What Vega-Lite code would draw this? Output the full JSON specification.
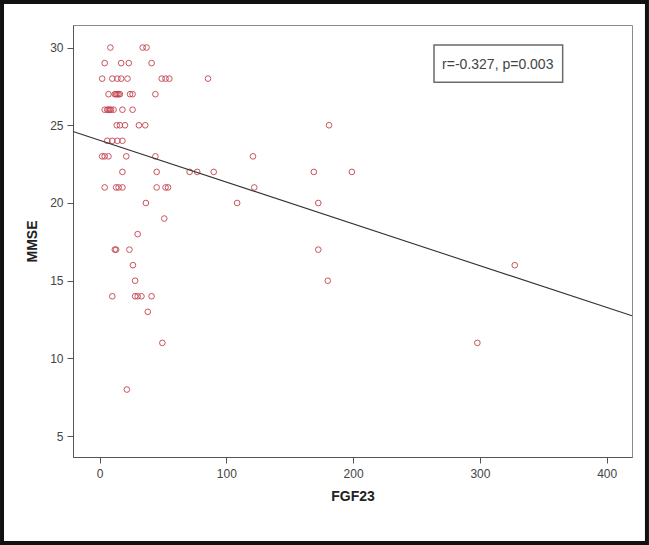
{
  "$schema": "https://vega.github.io/schema/vega-lite/v6.json",
  "width": 559,
  "height": 432,
  "autosize": {"type": "none"},
  "padding": {"left": 73, "top": 25, "right": 17, "bottom": 88},
  "background": "white",
  "config": {
    "view": {"stroke": "#8a8a8a", "strokeWidth": 1},
    "font": "Liberation Sans",
    "axis": {
      "grid": false,
      "domainColor": "#555555",
      "tickColor": "#555555",
      "tickSize": 6,
      "labelFont": "Liberation Sans",
      "labelFontSize": 12,
      "labelColor": "#444444",
      "titleFont": "Liberation Sans",
      "titleFontSize": 14,
      "titleFontWeight": "bold",
      "titleColor": "#222222"
    }
  },
  "datasets": {
    "points": [
      {"FGF23": 8.5, "MMSE": 30}, {"FGF23": 34, "MMSE": 30}, {"FGF23": 37, "MMSE": 30},
      {"FGF23": 4, "MMSE": 29}, {"FGF23": 17, "MMSE": 29}, {"FGF23": 23, "MMSE": 29}, {"FGF23": 41, "MMSE": 29},
      {"FGF23": 2, "MMSE": 28}, {"FGF23": 10, "MMSE": 28}, {"FGF23": 14, "MMSE": 28}, {"FGF23": 17, "MMSE": 28}, {"FGF23": 22, "MMSE": 28}, {"FGF23": 49, "MMSE": 28}, {"FGF23": 52, "MMSE": 28}, {"FGF23": 55, "MMSE": 28}, {"FGF23": 85.5, "MMSE": 28},
      {"FGF23": 7, "MMSE": 27}, {"FGF23": 12, "MMSE": 27}, {"FGF23": 13, "MMSE": 27}, {"FGF23": 14, "MMSE": 27}, {"FGF23": 15, "MMSE": 27}, {"FGF23": 16, "MMSE": 27}, {"FGF23": 24, "MMSE": 27}, {"FGF23": 26, "MMSE": 27}, {"FGF23": 44, "MMSE": 27},
      {"FGF23": 4, "MMSE": 26}, {"FGF23": 6, "MMSE": 26}, {"FGF23": 7, "MMSE": 26}, {"FGF23": 8, "MMSE": 26}, {"FGF23": 9, "MMSE": 26}, {"FGF23": 11, "MMSE": 26}, {"FGF23": 18, "MMSE": 26}, {"FGF23": 26, "MMSE": 26},
      {"FGF23": 13.5, "MMSE": 25}, {"FGF23": 16, "MMSE": 25}, {"FGF23": 20, "MMSE": 25}, {"FGF23": 31, "MMSE": 25}, {"FGF23": 36, "MMSE": 25}, {"FGF23": 181, "MMSE": 25},
      {"FGF23": 6, "MMSE": 24}, {"FGF23": 10, "MMSE": 24}, {"FGF23": 14, "MMSE": 24}, {"FGF23": 18, "MMSE": 24},
      {"FGF23": 2, "MMSE": 23}, {"FGF23": 4, "MMSE": 23}, {"FGF23": 7, "MMSE": 23}, {"FGF23": 21, "MMSE": 23}, {"FGF23": 44, "MMSE": 23}, {"FGF23": 121, "MMSE": 23},
      {"FGF23": 18, "MMSE": 22}, {"FGF23": 45, "MMSE": 22}, {"FGF23": 71, "MMSE": 22}, {"FGF23": 77, "MMSE": 22}, {"FGF23": 90, "MMSE": 22}, {"FGF23": 169, "MMSE": 22}, {"FGF23": 199, "MMSE": 22},
      {"FGF23": 4, "MMSE": 21}, {"FGF23": 13, "MMSE": 21}, {"FGF23": 15, "MMSE": 21}, {"FGF23": 18, "MMSE": 21}, {"FGF23": 45, "MMSE": 21}, {"FGF23": 52, "MMSE": 21}, {"FGF23": 54, "MMSE": 21}, {"FGF23": 122, "MMSE": 21},
      {"FGF23": 36.5, "MMSE": 20}, {"FGF23": 108.5, "MMSE": 20}, {"FGF23": 172.5, "MMSE": 20},
      {"FGF23": 51, "MMSE": 19},
      {"FGF23": 30, "MMSE": 18},
      {"FGF23": 12, "MMSE": 17}, {"FGF23": 13, "MMSE": 17}, {"FGF23": 23.5, "MMSE": 17}, {"FGF23": 172.5, "MMSE": 17},
      {"FGF23": 26.3, "MMSE": 16}, {"FGF23": 327.5, "MMSE": 16},
      {"FGF23": 28, "MMSE": 15}, {"FGF23": 180, "MMSE": 15},
      {"FGF23": 10, "MMSE": 14}, {"FGF23": 28, "MMSE": 14}, {"FGF23": 30, "MMSE": 14}, {"FGF23": 33, "MMSE": 14}, {"FGF23": 41, "MMSE": 14},
      {"FGF23": 38, "MMSE": 13},
      {"FGF23": 49.5, "MMSE": 11}, {"FGF23": 298, "MMSE": 11},
      {"FGF23": 21.5, "MMSE": 8}
    ],
    "fit": [
      {"FGF23": -21, "MMSE": 24.6},
      {"FGF23": 420, "MMSE": 12.74}
    ]
  },
  "layer": [
    {
      "data": {"name": "points"},
      "mark": {"type": "point", "shape": "circle", "filled": false, "size": 32, "strokeWidth": 1, "color": "#c4424e", "opacity": 0.9},
      "encoding": {
        "x": {
          "field": "FGF23", "type": "quantitative",
          "scale": {"domain": [-21, 420], "nice": false, "zero": false},
          "axis": {"values": [0, 100, 200, 300, 400], "labelPadding": 5, "titlePadding": 10, "title": "FGF23"}
        },
        "y": {
          "field": "MMSE", "type": "quantitative",
          "scale": {"domain": [3.66, 31.45], "nice": false, "zero": false},
          "axis": {"values": [5, 10, 15, 20, 25, 30], "labelPadding": 4, "titlePadding": 10, "title": "MMSE"}
        }
      }
    },
    {
      "data": {"name": "fit"},
      "mark": {"type": "line", "color": "#333333", "strokeWidth": 1.1},
      "encoding": {
        "x": {"field": "FGF23", "type": "quantitative"},
        "y": {"field": "MMSE", "type": "quantitative"}
      }
    },
    {
      "data": {"values": [{}]},
      "mark": {"type": "rect", "fill": "white", "stroke": "#6a6a6a", "strokeWidth": 1.5},
      "encoding": {
        "x": {"datum": 263.8, "type": "quantitative"},
        "x2": {"datum": 365.3},
        "y": {"datum": 30.16, "type": "quantitative"},
        "y2": {"datum": 27.76}
      }
    },
    {
      "data": {"values": [{}]},
      "mark": {"type": "text", "text": "r=-0.327, p=0.003", "fontSize": 14, "color": "#444444", "align": "center", "baseline": "middle", "font": "Liberation Sans"},
      "encoding": {
        "x": {"datum": 314.1, "type": "quantitative"},
        "y": {"datum": 28.85, "type": "quantitative"}
      }
    },
    {
      "data": {"values": [{}]},
      "mark": {"type": "rect", "fill": null, "fillOpacity": 0, "stroke": "#111111", "strokeWidth": 4, "clip": false},
      "encoding": {
        "x": {"datum": -77.0, "type": "quantitative"},
        "x2": {"datum": 431.8},
        "y": {"datum": 32.93, "type": "quantitative"},
        "y2": {"datum": -1.87}
      }
    }
  ]
}
